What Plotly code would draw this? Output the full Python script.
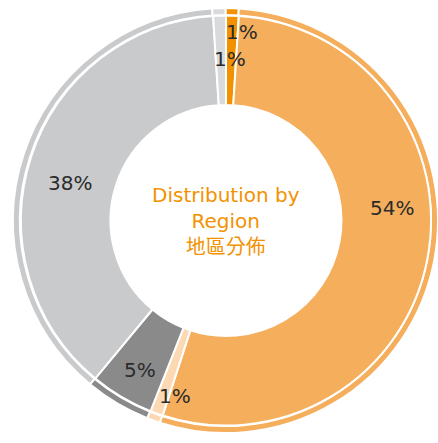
import plotly.graph_objects as go

# ---- data ----
regions = ["Region A", "Region B", "Region C", "Region D", "Region E", "Region F"]
shares = [1, 54, 1, 5, 38, 1]
center_title = "Distribution by<br>Region<br>地區分佈"

# ---- styles ----
colors = ["#F39200", "#F5AE5B", "#FCD9B2", "#8A8A8A", "#C9CACC", "#D9DADB"]
W, H = 438, 443
cx, cy = 226, 220.5        # center in px (from top)
r_ring, r_ring_in, r_main, r_hole = 213, 206, 205, 115.5
edge_w = 2

def dom(r):
    x = [max(0, (cx - r) / W), min(1, (cx + r) / W)]
    yb = H - cy
    y = [max(0, (yb - r) / H), min(1, (yb + r) / H)]
    return dict(x=x, y=y)

fig = go.Figure()
# outer thin ring
fig.add_trace(go.Pie(
    labels=regions, values=shares, sort=False, direction="clockwise", rotation=0,
    hole=r_ring_in / r_ring, domain=dom(r_ring),
    marker=dict(colors=colors, line=dict(color="white", width=edge_w)),
    textinfo="none", hoverinfo="label+percent", showlegend=False,
))
# main donut
fig.add_trace(go.Pie(
    labels=regions, values=shares, sort=False, direction="clockwise", rotation=0,
    hole=r_hole / r_main, domain=dom(r_main),
    marker=dict(colors=colors, line=dict(color="white", width=edge_w)),
    textinfo="none", hoverinfo="label+percent", showlegend=False,
))

# label placement (px, from top-left), one per slice
label_xy = [(242, 32), (392, 208), (175, 396), (140, 370), (70, 183), (230, 59)]
annotations = []
for v, (lx, ly) in zip(shares, label_xy):
    annotations.append(dict(
        x=lx / W, y=1 - ly / H, xref="paper", yref="paper",
        text=f"{v}%", showarrow=False, xanchor="center", yanchor="middle",
        font=dict(family="DejaVu Sans", size=20, color="#2B2B2B"),
    ))
annotations.append(dict(
    x=cx / W, y=1 - cy / H, xref="paper", yref="paper",
    text=center_title, showarrow=False, xanchor="center", yanchor="middle",
    font=dict(family="DejaVu Sans, Noto Sans CJK TC", size=20, color="#F39200"),
))

fig.update_layout(
    width=W, height=H, margin=dict(l=0, r=0, t=0, b=0),
    paper_bgcolor="white", plot_bgcolor="white",
    showlegend=False, annotations=annotations,
)
fig.write_html("out.html", config={"displayModeBar": False},
               post_script="document.body.style.margin='0';")
